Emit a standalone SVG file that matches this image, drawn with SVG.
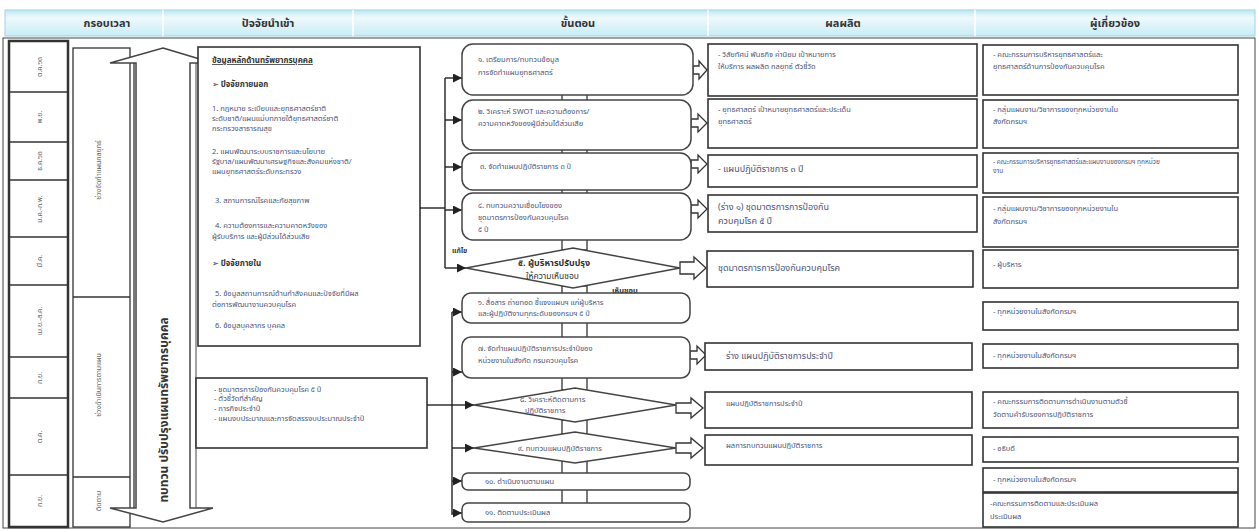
<svg xmlns="http://www.w3.org/2000/svg" width="1258" height="531" viewBox="0 0 1258 531">
<defs>
<linearGradient id="hdr" x1="0" y1="0" x2="0" y2="1">
<stop offset="0" stop-color="#bfe7f3"/>
<stop offset="0.3" stop-color="#eef9fc"/>
<stop offset="1" stop-color="#c9ecf6"/>
</linearGradient>
<marker id="ah" viewBox="0 0 10 10" refX="10" refY="5" markerWidth="9" markerHeight="9" markerUnits="userSpaceOnUse" orient="auto">
<path d="M0,0 L10,5 L0,10 z" fill="#222"/>
</marker>
<style>
text{font-family:"Noto Sans Thai","Noto Sans","DejaVu Sans",sans-serif;}
.hd{font-size:11px;font-weight:bold;fill:#333;text-anchor:middle;}
.box{fill:#fff;stroke:#333;stroke-width:1.6;}
.cell{fill:#fff;stroke:#333;stroke-width:1.3;}
.step{fill:#fff;stroke:#444;stroke-width:1.5;}
.t{font-size:7.5px;fill:#4a5478;}
.tb{font-size:8px;fill:#333;font-weight:bold;}
.tm{font-size:9px;fill:#4a5478;}
.tv{font-size:7px;fill:#666;text-anchor:middle;}
.ln{fill:none;stroke:#222;stroke-width:1.4;}
.blk{fill:#fff;stroke:#333;stroke-width:1.3;}
</style>
</defs>
<rect width="1258" height="531" fill="#fff"/>

<g id="header">
<rect x="5" y="10" width="1250" height="26" fill="url(#hdr)" stroke="#9fd3e3" stroke-width="1"/>
<line x1="163" y1="10" x2="163" y2="36" stroke="#fff" stroke-width="1.5"/>
<line x1="353" y1="10" x2="353" y2="36" stroke="#fff" stroke-width="1.5"/>
<line x1="708" y1="10" x2="708" y2="36" stroke="#fff" stroke-width="1.5"/>
<line x1="975" y1="10" x2="975" y2="36" stroke="#fff" stroke-width="1.5"/>
<text class="hd" x="107" y="27">กรอบเวลา</text>
<text class="hd" x="268" y="27">ปัจจัยนำเข้า</text>
<text class="hd" x="578" y="27">ขั้นตอน</text>
<text class="hd" x="843" y="27">ผลผลิต</text>
<text class="hd" x="1115" y="27">ผู้เกี่ยวข้อง</text>
</g>

<rect x="3" y="38" width="1252" height="490" fill="none" stroke="#444" stroke-width="1"/>

<g id="timeframe">
<rect x="9" y="41" width="59" height="486" fill="#fff" stroke="#333" stroke-width="2.5"/>
<g stroke="#333" stroke-width="1.3">
<line x1="9" y1="92" x2="68" y2="92"/>
<line x1="9" y1="142" x2="68" y2="142"/>
<line x1="9" y1="180" x2="68" y2="180"/>
<line x1="9" y1="237" x2="68" y2="237"/>
<line x1="9" y1="285" x2="68" y2="285"/>
<line x1="9" y1="357" x2="68" y2="357"/>
<line x1="9" y1="398" x2="68" y2="398"/>
<line x1="9" y1="475" x2="68" y2="475"/>
</g>
<text class="tv" transform="translate(42,67) rotate(-90)">ต.ค.๖๓</text>
<text class="tv" transform="translate(42,117) rotate(-90)">พ.ย.</text>
<text class="tv" transform="translate(42,161) rotate(-90)">ธ.ค.๖๓</text>
<text class="tv" transform="translate(42,209) rotate(-90)">ม.ค.-ก.พ.</text>
<text class="tv" transform="translate(42,261) rotate(-90)">มี.ค.</text>
<text class="tv" transform="translate(42,321) rotate(-90)">เม.ย.-ส.ค.</text>
<text class="tv" transform="translate(42,378) rotate(-90)">ก.ย.</text>
<text class="tv" transform="translate(42,437) rotate(-90)">ต.ค.</text>
<text class="tv" transform="translate(42,501) rotate(-90)">ก.ย.</text>
</g>

<g id="phases">
<rect x="73" y="48" width="57" height="479" class="cell"/>
<line x1="73" y1="297" x2="130" y2="297" stroke="#333" stroke-width="1.3"/>
<line x1="73" y1="477" x2="130" y2="477" stroke="#333" stroke-width="1.3"/>
<line x1="134" y1="60" x2="134" y2="515" stroke="#333" stroke-width="1.3"/>
<text class="tv" transform="translate(101,170) rotate(-90)">ช่วงจัดทำแผนกลยุทธ์</text>
<text class="tv" transform="translate(101,385) rotate(-90)">ช่วงดำเนินการตามแผน</text>
<text class="tv" transform="translate(101,501) rotate(-90)">ติดตาม</text>
</g>

<g id="review-arrow">
<path d="M163,48 L213,63 L190,63 L190,508 L213,508 L163,522 L110,508 L136,508 L136,63 L110,63 Z" fill="#fff" stroke="#444" stroke-width="1.5"/>
<line x1="196" y1="63" x2="196" y2="508" stroke="#444" stroke-width="1"/>
<text transform="translate(168,410) rotate(-90)" text-anchor="middle" font-size="12" font-weight="bold" fill="#333">ทบทวน ปรับปรุงแผนทรัพยากรบุคคล</text>
</g>

<g id="input-1">
<rect x="198" y="47" width="222" height="299" class="box"/>
<text class="tb" x="212" y="63" text-decoration="underline">ข้อมูลหลักด้านทรัพยากรบุคคล</text>
<text class="tb" x="212" y="87">➢ ปัจจัยภายนอก</text>
<text class="t" x="212" y="111">1. กฎหมาย ระเบียบและยุทธศาสตร์ชาติ</text>
<text class="t" x="212" y="121">ระดับชาติ/แผนแม่บทภายใต้ยุทธศาสตร์ชาติ</text>
<text class="t" x="212" y="131">กระทรวงสาธารณสุข</text>
<text class="t" x="212" y="154">2. แผนพัฒนาระบบราชการและนโยบาย</text>
<text class="t" x="212" y="164">รัฐบาล/แผนพัฒนาเศรษฐกิจและสังคมแห่งชาติ/</text>
<text class="t" x="212" y="174">แผนยุทธศาสตร์ระดับกระทรวง</text>
<text class="t" x="215" y="203">3. สถานการณ์โรคและภัยสุขภาพ</text>
<text class="t" x="215" y="228">4. ความต้องการและความคาดหวังของ</text>
<text class="t" x="212" y="239">ผู้รับบริการ และผู้มีส่วนได้ส่วนเสีย</text>
<text class="tb" x="212" y="266">➢ ปัจจัยภายใน</text>
<text class="t" x="215" y="296">5. ข้อมูลสถานการณ์ด้านกำลังคนและปัจจัยที่มีผล</text>
<text class="t" x="212" y="307">ต่อการพัฒนางานควบคุมโรค</text>
<text class="t" x="215" y="328">6. ข้อมูลบุคลากร บุคคล</text>
</g>

<g id="input-2">
<rect x="196" y="378" width="231" height="70" class="box"/>
<text class="t" x="214" y="392">- ชุดมาตรการป้องกันควบคุมโรค ๕ ปี</text>
<text class="t" x="214" y="401">- ตัวชี้วัดที่สำคัญ</text>
<text class="t" x="214" y="411">- ภารกิจประจำปี</text>
<text class="t" x="214" y="421">- แผนงบประมาณและการจัดสรรงบประมาณประจำปี</text>
</g>

<g id="connectors">
<path class="ln" d="M420,208 H445"/>
<path class="ln" d="M445,78 V268"/>
<path class="ln" d="M445,78 H462" marker-end="url(#ah)"/>
<path class="ln" d="M445,120 H462" marker-end="url(#ah)"/>
<path class="ln" d="M445,167 H462" marker-end="url(#ah)"/>
<path class="ln" d="M445,210 H462" marker-end="url(#ah)"/>
<path class="ln" d="M445,268 H466" marker-end="url(#ah)"/>
<path class="ln" d="M427,405 H452"/>
<path class="ln" d="M452,312 V515"/>
<path class="ln" d="M452,312 H462" marker-end="url(#ah)"/>
<path class="ln" d="M452,372 H462" marker-end="url(#ah)"/>
<path class="ln" d="M452,405 H474" marker-end="url(#ah)"/>
<path class="ln" d="M452,448 H474" marker-end="url(#ah)"/>
<path class="ln" d="M452,481 H462" marker-end="url(#ah)"/>
<path class="ln" d="M452,513 H462" marker-end="url(#ah)"/>
<g class="blk">
<rect x="562" y="93" width="25" height="9"/>
<rect x="562" y="148" width="25" height="7"/>
<rect x="562" y="188" width="25" height="7"/>
<rect x="562" y="238" width="25" height="12"/>
<rect x="562" y="286" width="25" height="9"/>
<rect x="562" y="321" width="25" height="18"/>
<rect x="562" y="376" width="25" height="14"/>
<rect x="562" y="420" width="25" height="14"/>
<rect x="562" y="461" width="25" height="13"/>
<rect x="562" y="488" width="25" height="16"/>
<path d="M693,66 H699 V61 L707,70 L699,79 V74 H693 Z"/>
<path d="M691,119 H698 V114 L707,123 L698,132 V127 H691 Z"/>
<path d="M691,160 H698 V155 L707,164 L698,173 V168 H691 Z"/>
<path d="M691,205 H698 V200 L707,209 L698,218 V213 H691 Z"/>
<path d="M680,262 H694 V257 L706,268 L694,279 V274 H680 Z"/>
<path d="M690,351 H697 V346 L706,355 L697,364 V359 H690 Z"/>
<path d="M676,403 H691 V398 L703,408 L691,418 V413 H676 Z"/>
<path d="M676,443 H691 V438 L703,448 L691,458 V453 H676 Z"/>
</g>
<text x="452" y="253" font-size="7" font-weight="bold" fill="#333">แก้ไข</text>
<text x="612" y="293" font-size="7.5" font-weight="bold" fill="#333">เห็นชอบ</text>
</g>

<g id="step-1">
<rect x="462" y="44" width="231" height="51" rx="11" class="step"/>
<text class="t" x="478" y="62">๑. เตรียมการ/ทบทวนข้อมูล</text>
<text class="t" x="478" y="75">การจัดทำแผนยุทธศาสตร์</text>
</g>
<g id="step-2">
<rect x="462" y="100" width="229" height="50" rx="11" class="step"/>
<text class="t" x="478" y="114">๒. วิเคราะห์ SWOT และความต้องการ/</text>
<text class="t" x="478" y="126">ความคาดหวังของผู้มีส่วนได้ส่วนเสีย</text>
</g>
<g id="step-3">
<rect x="462" y="153" width="229" height="37" rx="11" class="step"/>
<text class="t" x="480" y="169">๓. จัดทำแผนปฏิบัติราชการ ๓ ปี</text>
</g>
<g id="step-4">
<rect x="462" y="193" width="229" height="47" rx="11" class="step"/>
<text class="t" x="478" y="208">๔. ทบทวนความเชื่อมโยงของ</text>
<text class="t" x="478" y="220">ชุดมาตรการป้องกันควบคุมโรค</text>
<text class="t" x="478" y="232">๕ ปี</text>
</g>
<g id="step-5">
<polygon points="466,268 573,248 680,268 573,288" class="step"/>
<text x="518" y="266" font-size="9" font-weight="bold" fill="#333">๕. ผู้บริหารปรับปรุง</text>
<text x="526" y="279" font-size="8.5" fill="#333">ให้ความเห็นชอบ</text>
</g>
<g id="step-6">
<rect x="462" y="293" width="228" height="30" rx="9" class="step"/>
<text class="t" x="478" y="305">๖. สื่อสาร ถ่ายทอด ชี้แจงแผนฯ แก่ผู้บริหาร</text>
<text class="t" x="478" y="316">และผู้ปฏิบัติงานทุกระดับของกรมฯ ๕ ปี</text>
</g>
<g id="step-7">
<rect x="462" y="337" width="228" height="41" rx="9" class="step"/>
<text class="t" x="478" y="351">๗. จัดทำแผนปฏิบัติราชการประจำปีของ</text>
<text class="t" x="478" y="363">หน่วยงานในสังกัด กรมควบคุมโรค</text>
</g>
<g id="step-8">
<polygon points="474,405 575,388 676,405 575,422" class="step"/>
<text class="t" x="520" y="402">๘. วิเคราะห์ติดตามการ</text>
<text class="t" x="525" y="413">ปฏิบัติราชการ</text>
</g>
<g id="step-9">
<polygon points="474,448 575,432 676,448 575,463" class="step"/>
<text class="t" x="518" y="451">๙. ทบทวนแผนปฏิบัติราชการ</text>
</g>
<g id="step-10">
<rect x="462" y="473" width="228" height="17" rx="6" class="step"/>
<text class="t" x="485" y="484">๑๐. ดำเนินงานตามแผน</text>
</g>
<g id="step-11">
<rect x="462" y="503" width="228" height="19" rx="6" class="step"/>
<text class="t" x="485" y="515">๑๑. ติดตามประเมินผล</text>
</g>

<g id="output-1"><rect x="708" y="44" width="269" height="52" class="box"/>
<text class="t" x="718" y="57">- วิสัยทัศน์ พันธกิจ ค่านิยม เป้าหมายการ</text>
<text class="t" x="718" y="69">ให้บริการ ผลผลิต กลยุทธ์ ตัวชี้วัด</text></g>
<g id="output-2"><rect x="708" y="99" width="269" height="49" class="box"/>
<text class="t" x="718" y="112">- ยุทธศาสตร์ เป้าหมายยุทธศาสตร์และประเด็น</text>
<text class="t" x="718" y="124">ยุทธศาสตร์</text></g>
<g id="output-3"><rect x="708" y="155" width="269" height="32" class="box"/>
<text class="tm" x="718" y="172">- แผนปฏิบัติราชการ ๓ ปี</text></g>
<g id="output-4"><rect x="708" y="195" width="269" height="37" class="box"/>
<text class="tm" x="718" y="210">(ร่าง ๑) ชุดมาตรการการป้องกัน</text>
<text class="tm" x="718" y="224">ควบคุมโรค ๕ ปี</text></g>
<g id="output-5"><rect x="707" y="251" width="266" height="36" class="box"/>
<text class="tm" x="718" y="271">ชุดมาตรการการป้องกันควบคุมโรค</text></g>
<g id="output-7"><rect x="705" y="343" width="267" height="27" class="box"/>
<text class="tm" x="726" y="359">ร่าง แผนปฏิบัติราชการประจำปี</text></g>
<g id="output-8"><rect x="705" y="392" width="267" height="36" class="box"/>
<text class="t" x="726" y="406">แผนปฏิบัติราชการประจำปี</text></g>
<g id="output-9"><rect x="705" y="435" width="267" height="30" class="box"/>
<text class="t" x="726" y="448">ผลการทบทวนแผนปฏิบัติราชการ</text></g>

<g id="related-1"><rect x="983" y="45" width="255" height="50" class="box"/>
<text class="t" x="993" y="57">- คณะกรรมการบริหารยุทธศาสตร์และ</text>
<text class="t" x="993" y="69">ยุทธศาสตร์ด้านการป้องกันควบคุมโรค</text></g>
<g id="related-2"><rect x="983" y="100" width="255" height="48" class="box"/>
<text class="t" x="993" y="112">- กลุ่มแผนงาน/วิชาการของทุกหน่วยงานใน</text>
<text class="t" x="993" y="124">สังกัดกรมฯ</text></g>
<g id="related-3"><rect x="983" y="153" width="255" height="40" class="box"/>
<text x="993" y="164" font-size="6.5" fill="#4a5478">- คณะกรรมการบริหารยุทธศาสตร์และแผนงานของกรมฯ ทุกหน่วย</text>
<text x="993" y="173" font-size="6.5" fill="#4a5478">งาน</text></g>
<g id="related-4"><rect x="983" y="197" width="255" height="50" class="box"/>
<text class="t" x="993" y="211">- กลุ่มแผนงาน/วิชาการของทุกหน่วยงานใน</text>
<text class="t" x="993" y="224">สังกัดกรมฯ</text></g>
<g id="related-5"><rect x="983" y="250" width="255" height="38" class="box"/>
<text class="t" x="993" y="267">- ผู้บริหาร</text></g>
<g id="related-6"><rect x="983" y="302" width="255" height="28" class="box"/>
<text class="t" x="993" y="314">- ทุกหน่วยงานในสังกัดกรมฯ</text></g>
<g id="related-7"><rect x="983" y="344" width="255" height="24" class="box"/>
<text class="t" x="993" y="358">- ทุกหน่วยงานในสังกัดกรมฯ</text></g>
<g id="related-8"><rect x="983" y="392" width="255" height="36" class="box"/>
<text class="t" x="993" y="404">- คณะกรรมการติดตามการดำเนินงานตามตัวชี้</text>
<text class="t" x="993" y="417">วัดตามคำรับรองการปฏิบัติราชการ</text></g>
<g id="related-9"><rect x="983" y="437" width="255" height="25" class="box"/>
<text class="t" x="993" y="451">- อธิบดี</text></g>
<g id="related-10"><rect x="983" y="468" width="255" height="24" class="box"/>
<text class="t" x="993" y="482">- ทุกหน่วยงานในสังกัดกรมฯ</text></g>
<g id="related-11"><rect x="983" y="493" width="255" height="34" class="box"/>
<text class="t" x="990" y="506">-คณะกรรมการติดตามและประเมินผล</text>
<text class="t" x="990" y="519">ประเมินผล</text></g>
</svg>
